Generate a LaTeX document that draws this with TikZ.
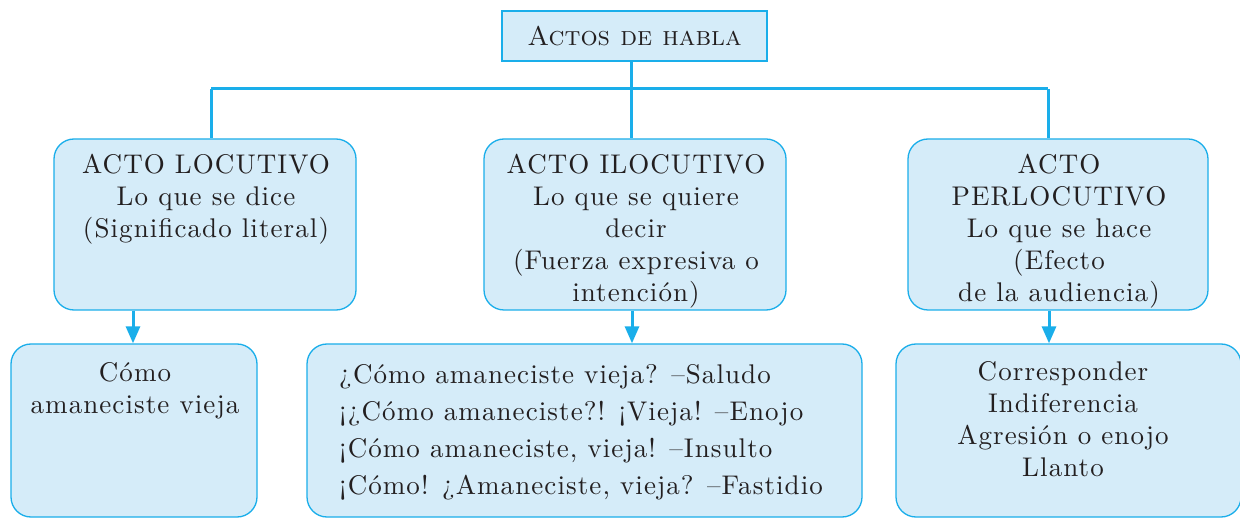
\documentclass[tikz,border=0pt]{standalone}
\usepackage{fontspec}
\newfontfamily\boxfont{lmroman10-regular.otf}[LetterSpace=4]
\usetikzlibrary{arrows.meta}
\definecolor{lineblue}{HTML}{1AAEEA}
\definecolor{fillblue}{HTML}{D5ECF9}
\definecolor{ink}{HTML}{231F20}
\begin{document}
\begin{tikzpicture}[x=1pt,y=-1pt,
  boxstyle/.style={draw=lineblue, fill=fillblue, line width=1.3pt, rounded corners=20pt, inner sep=0pt},
  topstyle/.style={draw=lineblue, fill=fillblue, line width=1.5pt, inner sep=0pt},
  conn/.style={draw=lineblue, line width=3pt},
  arr/.style={conn, -{Triangle[length=17pt,width=14pt]}},
  txt/.style={text=ink, font=\boxfont\fontsize{27}{32}\selectfont, align=center, inner sep=0pt, anchor=north},
  txtl/.style={text=ink, font=\boxfont\fontsize{27}{37}\selectfont, align=left, inner sep=0pt, anchor=north west}]
\useasboundingbox (0,0) rectangle (1240,518);
\clip (0,0) rectangle (1240,518);
% boxes
\node[topstyle, minimum width=265pt, minimum height=50pt] (top) at (634.5,36) {};
\node[boxstyle, minimum width=302pt, minimum height=171pt] (b1) at (205,224.5) {};
\node[boxstyle, minimum width=302pt, minimum height=171pt] (b2) at (635,224.5) {};
\node[boxstyle, minimum width=300pt, minimum height=171pt] (b3) at (1058,224.5) {};
\node[boxstyle, minimum width=246pt, minimum height=173pt] (b4) at (134,430.5) {};
\node[boxstyle, minimum width=555pt, minimum height=173pt] (b5) at (584.5,430.5) {};
\node[boxstyle, minimum width=345pt, minimum height=173pt] (b6) at (1068.5,430.5) {};
% texts
\node[text=ink, font=\fontsize{27}{32}\selectfont, inner sep=0pt] (ttop) at (top.center) {\textsc{Actos de habla}};
\node[txt] (t1) at (206,154) {ACTO LOCUTIVO\\Lo que se dice\\(Significado literal)};
\node[txt] (t2) at (636,154) {ACTO ILOCUTIVO\\Lo que se quiere\\decir\\(Fuerza expresiva o\\intención)};
\node[txt] (t3) at (1059,154) {ACTO\\PERLOCUTIVO\\Lo que se hace\\(Efecto\\de la audiencia)};
\node[txt] (t4) at (135,362) {Cómo\\amaneciste vieja};
\node[txtl] (t5) at (339,364) {¿Cómo amaneciste vieja? –Saludo\\¡¿Cómo amaneciste?! ¡Vieja! –Enojo\\¡Cómo amaneciste, vieja! –Insulto\\¡Cómo! ¿Amaneciste, vieja? –Fastidio};
\node[txt] (t6) at (1063,361) {Corresponder\\Indiferencia\\Agresión o enojo\\Llanto};
% connectors
\coordinate (j1) at (211,89);
\coordinate (j2) at (631,89);
\coordinate (j3) at (1048,89);
\draw[conn] (j2 |- top.south) -- (j2);
\draw[conn] (j1) -- (j3);
\draw[conn] (j1) -- (j1 |- b1.north);
\draw[conn] (j2) -- (j2 |- b2.north);
\draw[conn] (j3) -- (j3 |- b3.north);
\coordinate (a1) at (133,0);
\coordinate (a2) at (632,0);
\coordinate (a3) at (1049,0);
\draw[arr] (a1 |- b1.south) -- (a1 |- b4.north);
\draw[arr] (a2 |- b2.south) -- (a2 |- b5.north);
\draw[arr] (a3 |- b3.south) -- (a3 |- b6.north);
\end{tikzpicture}
\end{document}
